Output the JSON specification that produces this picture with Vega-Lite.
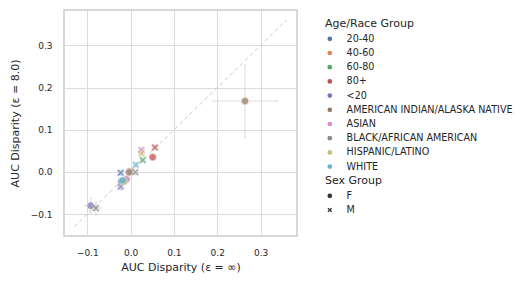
{
  "$schema": "https://vega.github.io/schema/vega-lite/v6.json",
  "width": 233,
  "height": 226,
  "autosize": "none",
  "padding": {"left": 64, "top": 10, "right": 230, "bottom": 51},
  "background": "white",
  "config": {
    "font": "DejaVu Sans",
    "view": {"stroke": "#cccccc", "strokeWidth": 1.5},
    "axis": {
      "grid": true, "gridColor": "#dcdcdc", "gridWidth": 1,
      "domain": false, "ticks": false,
      "labelFont": "DejaVu Sans", "labelFontSize": 9, "labelColor": "#262626",
      "titleFont": "DejaVu Sans", "titleFontSize": 11, "titleFontWeight": "normal", "titleColor": "#262626"
    },
    "legend": {
      "labelFont": "DejaVu Sans", "labelFontSize": 9.6, "labelColor": "#262626", "labelLimit": 400,
      "titleFont": "DejaVu Sans", "titleFontSize": 11, "titleFontWeight": "normal", "titleColor": "#262626",
      "padding": 0, "rowPadding": 3.2, "titlePadding": 5, "symbolSize": 22, "labelOffset": 12
    }
  },
  "data": {
    "values": [
      {"grp": "20-40", "sex": "F", "x": -0.021, "y": -0.022, "xlo": -0.028, "xhi": -0.014, "ylo": -0.030, "yhi": -0.014},
      {"grp": "20-40", "sex": "M", "x": -0.023, "y": -0.002, "xlo": -0.029, "xhi": -0.017, "ylo": -0.008, "yhi": 0.004},
      {"grp": "40-60", "sex": "F", "x": -0.004, "y": -0.001, "xlo": -0.010, "xhi": 0.002, "ylo": -0.007, "yhi": 0.005},
      {"grp": "40-60", "sex": "M", "x": 0.000, "y": 0.002, "xlo": -0.006, "xhi": 0.006, "ylo": -0.004, "yhi": 0.008},
      {"grp": "60-80", "sex": "F", "x": -0.012, "y": -0.020, "xlo": -0.018, "xhi": -0.006, "ylo": -0.026, "yhi": -0.014},
      {"grp": "60-80", "sex": "M", "x": 0.028, "y": 0.028, "xlo": 0.022, "xhi": 0.034, "ylo": 0.022, "yhi": 0.034},
      {"grp": "80+", "sex": "F", "x": 0.051, "y": 0.035, "xlo": 0.045, "xhi": 0.057, "ylo": 0.029, "yhi": 0.041},
      {"grp": "80+", "sex": "M", "x": 0.056, "y": 0.058, "xlo": 0.050, "xhi": 0.062, "ylo": 0.052, "yhi": 0.064},
      {"grp": "<20", "sex": "F", "x": -0.092, "y": -0.080, "xlo": -0.104, "xhi": -0.080, "ylo": -0.098, "yhi": -0.062},
      {"grp": "<20", "sex": "M", "x": -0.023, "y": -0.035, "xlo": -0.031, "xhi": -0.015, "ylo": -0.043, "yhi": -0.027},
      {"grp": "AMERICAN INDIAN/ALASKA NATIVE", "sex": "F", "x": 0.264, "y": 0.168, "xlo": 0.190, "xhi": 0.338, "ylo": 0.082, "yhi": 0.254},
      {"grp": "AMERICAN INDIAN/ALASKA NATIVE", "sex": "M", "x": -0.080, "y": -0.086, "xlo": -0.092, "xhi": -0.068, "ylo": -0.102, "yhi": -0.070},
      {"grp": "ASIAN", "sex": "F", "x": -0.009, "y": -0.017, "xlo": -0.016, "xhi": -0.002, "ylo": -0.024, "yhi": -0.010},
      {"grp": "ASIAN", "sex": "M", "x": 0.025, "y": 0.052, "xlo": 0.018, "xhi": 0.032, "ylo": 0.045, "yhi": 0.059},
      {"grp": "BLACK/AFRICAN AMERICAN", "sex": "F", "x": -0.003, "y": -0.001, "xlo": -0.009, "xhi": 0.003, "ylo": -0.007, "yhi": 0.005},
      {"grp": "BLACK/AFRICAN AMERICAN", "sex": "M", "x": 0.011, "y": -0.001, "xlo": 0.005, "xhi": 0.017, "ylo": -0.007, "yhi": 0.005},
      {"grp": "HISPANIC/LATINO", "sex": "F", "x": -0.015, "y": -0.023, "xlo": -0.022, "xhi": -0.008, "ylo": -0.030, "yhi": -0.016},
      {"grp": "HISPANIC/LATINO", "sex": "M", "x": 0.025, "y": 0.044, "xlo": 0.018, "xhi": 0.032, "ylo": 0.037, "yhi": 0.051},
      {"grp": "WHITE", "sex": "F", "x": -0.018, "y": -0.020, "xlo": -0.023, "xhi": -0.013, "ylo": -0.025, "yhi": -0.015},
      {"grp": "WHITE", "sex": "M", "x": 0.012, "y": 0.017, "xlo": 0.007, "xhi": 0.017, "ylo": 0.012, "yhi": 0.022}
    ]
  },
  "layer": [
    {
      "data": {"values": [{"a": -0.13, "b": -0.13, "a2": 0.36, "b2": 0.36}]},
      "mark": {"type": "rule", "color": "#c8c8c8", "strokeDash": [4, 3], "strokeWidth": 1},
      "encoding": {
        "x": {"field": "a", "type": "quantitative"},
        "y": {"field": "b", "type": "quantitative"},
        "x2": {"field": "a2"},
        "y2": {"field": "b2"}
      }
    },
    {
      "mark": {"type": "rule", "color": "#d4d4d4", "strokeWidth": 0.8},
      "encoding": {
        "x": {"field": "xlo", "type": "quantitative"},
        "x2": {"field": "xhi"},
        "y": {"field": "y", "type": "quantitative"}
      }
    },
    {
      "mark": {"type": "rule", "color": "#d4d4d4", "strokeWidth": 0.8},
      "encoding": {
        "y": {"field": "ylo", "type": "quantitative"},
        "y2": {"field": "yhi"},
        "x": {"field": "x", "type": "quantitative"}
      }
    },
    {
      "mark": {"type": "tick", "orient": "vertical", "color": "#d4d4d4", "size": 3, "thickness": 0.8},
      "encoding": {
        "x": {"field": "xlo", "type": "quantitative"},
        "y": {"field": "y", "type": "quantitative"}
      }
    },
    {
      "mark": {"type": "tick", "orient": "vertical", "color": "#d4d4d4", "size": 3, "thickness": 0.8},
      "encoding": {
        "x": {"field": "xhi", "type": "quantitative"},
        "y": {"field": "y", "type": "quantitative"}
      }
    },
    {
      "mark": {"type": "tick", "orient": "horizontal", "color": "#d4d4d4", "size": 3, "thickness": 0.8},
      "encoding": {
        "x": {"field": "x", "type": "quantitative"},
        "y": {"field": "ylo", "type": "quantitative"}
      }
    },
    {
      "mark": {"type": "tick", "orient": "horizontal", "color": "#d4d4d4", "size": 3, "thickness": 0.8},
      "encoding": {
        "x": {"field": "x", "type": "quantitative"},
        "y": {"field": "yhi", "type": "quantitative"}
      }
    },
    {
      "mark": {"type": "point", "filled": true, "opacity": 0.7, "stroke": "white", "strokeWidth": 0.5, "size": 55},
      "encoding": {
        "x": {
          "field": "x", "type": "quantitative",
          "scale": {"domain": [-0.1537, 0.384], "nice": false, "zero": false},
          "axis": {"values": [-0.1, 0, 0.1, 0.2, 0.3], "format": ".1f", "labelPadding": 12, "titlePadding": 4},
          "title": "AUC Disparity (ε = ∞)"
        },
        "y": {
          "field": "y", "type": "quantitative",
          "scale": {"domain": [-0.152, 0.384], "nice": false, "zero": false},
          "axis": {"values": [-0.1, 0, 0.1, 0.2, 0.3], "format": ".1f", "labelPadding": 12, "titlePadding": 10},
          "title": "AUC Disparity (ε = 8.0)"
        },
        "color": {
          "field": "grp", "type": "nominal",
          "scale": {
            "domain": ["20-40", "40-60", "60-80", "80+", "<20", "AMERICAN INDIAN/ALASKA NATIVE", "ASIAN", "BLACK/AFRICAN AMERICAN", "HISPANIC/LATINO", "WHITE"],
            "range": ["#4c72b0", "#dd8452", "#55a868", "#c44e52", "#8172b3", "#937860", "#da8bc3", "#8c8c8c", "#ccb974", "#64b5cd"]
          },
          "legend": {"title": "Age/Race Group", "orient": "none", "legendX": 261, "legendY": 8, "symbolType": "circle", "symbolOpacity": 1, "symbolStrokeWidth": 0, "zindex": 1}
        },
        "shape": {
          "field": "sex", "type": "nominal",
          "scale": {
            "domain": ["F", "M"],
            "range": ["circle", "M-1,-0.6L-0.6,-1L0,-0.4L0.6,-1L1,-0.6L0.4,0L1,0.6L0.6,1L0,0.4L-0.6,1L-1,0.6L-0.4,0Z"]
          },
          "legend": {"title": "Sex Group", "orient": "none", "legendX": 261, "legendY": 165, "symbolFillColor": "#333333", "symbolStrokeWidth": 0, "symbolOpacity": 1}
        }
      }
    }
  ]
}
